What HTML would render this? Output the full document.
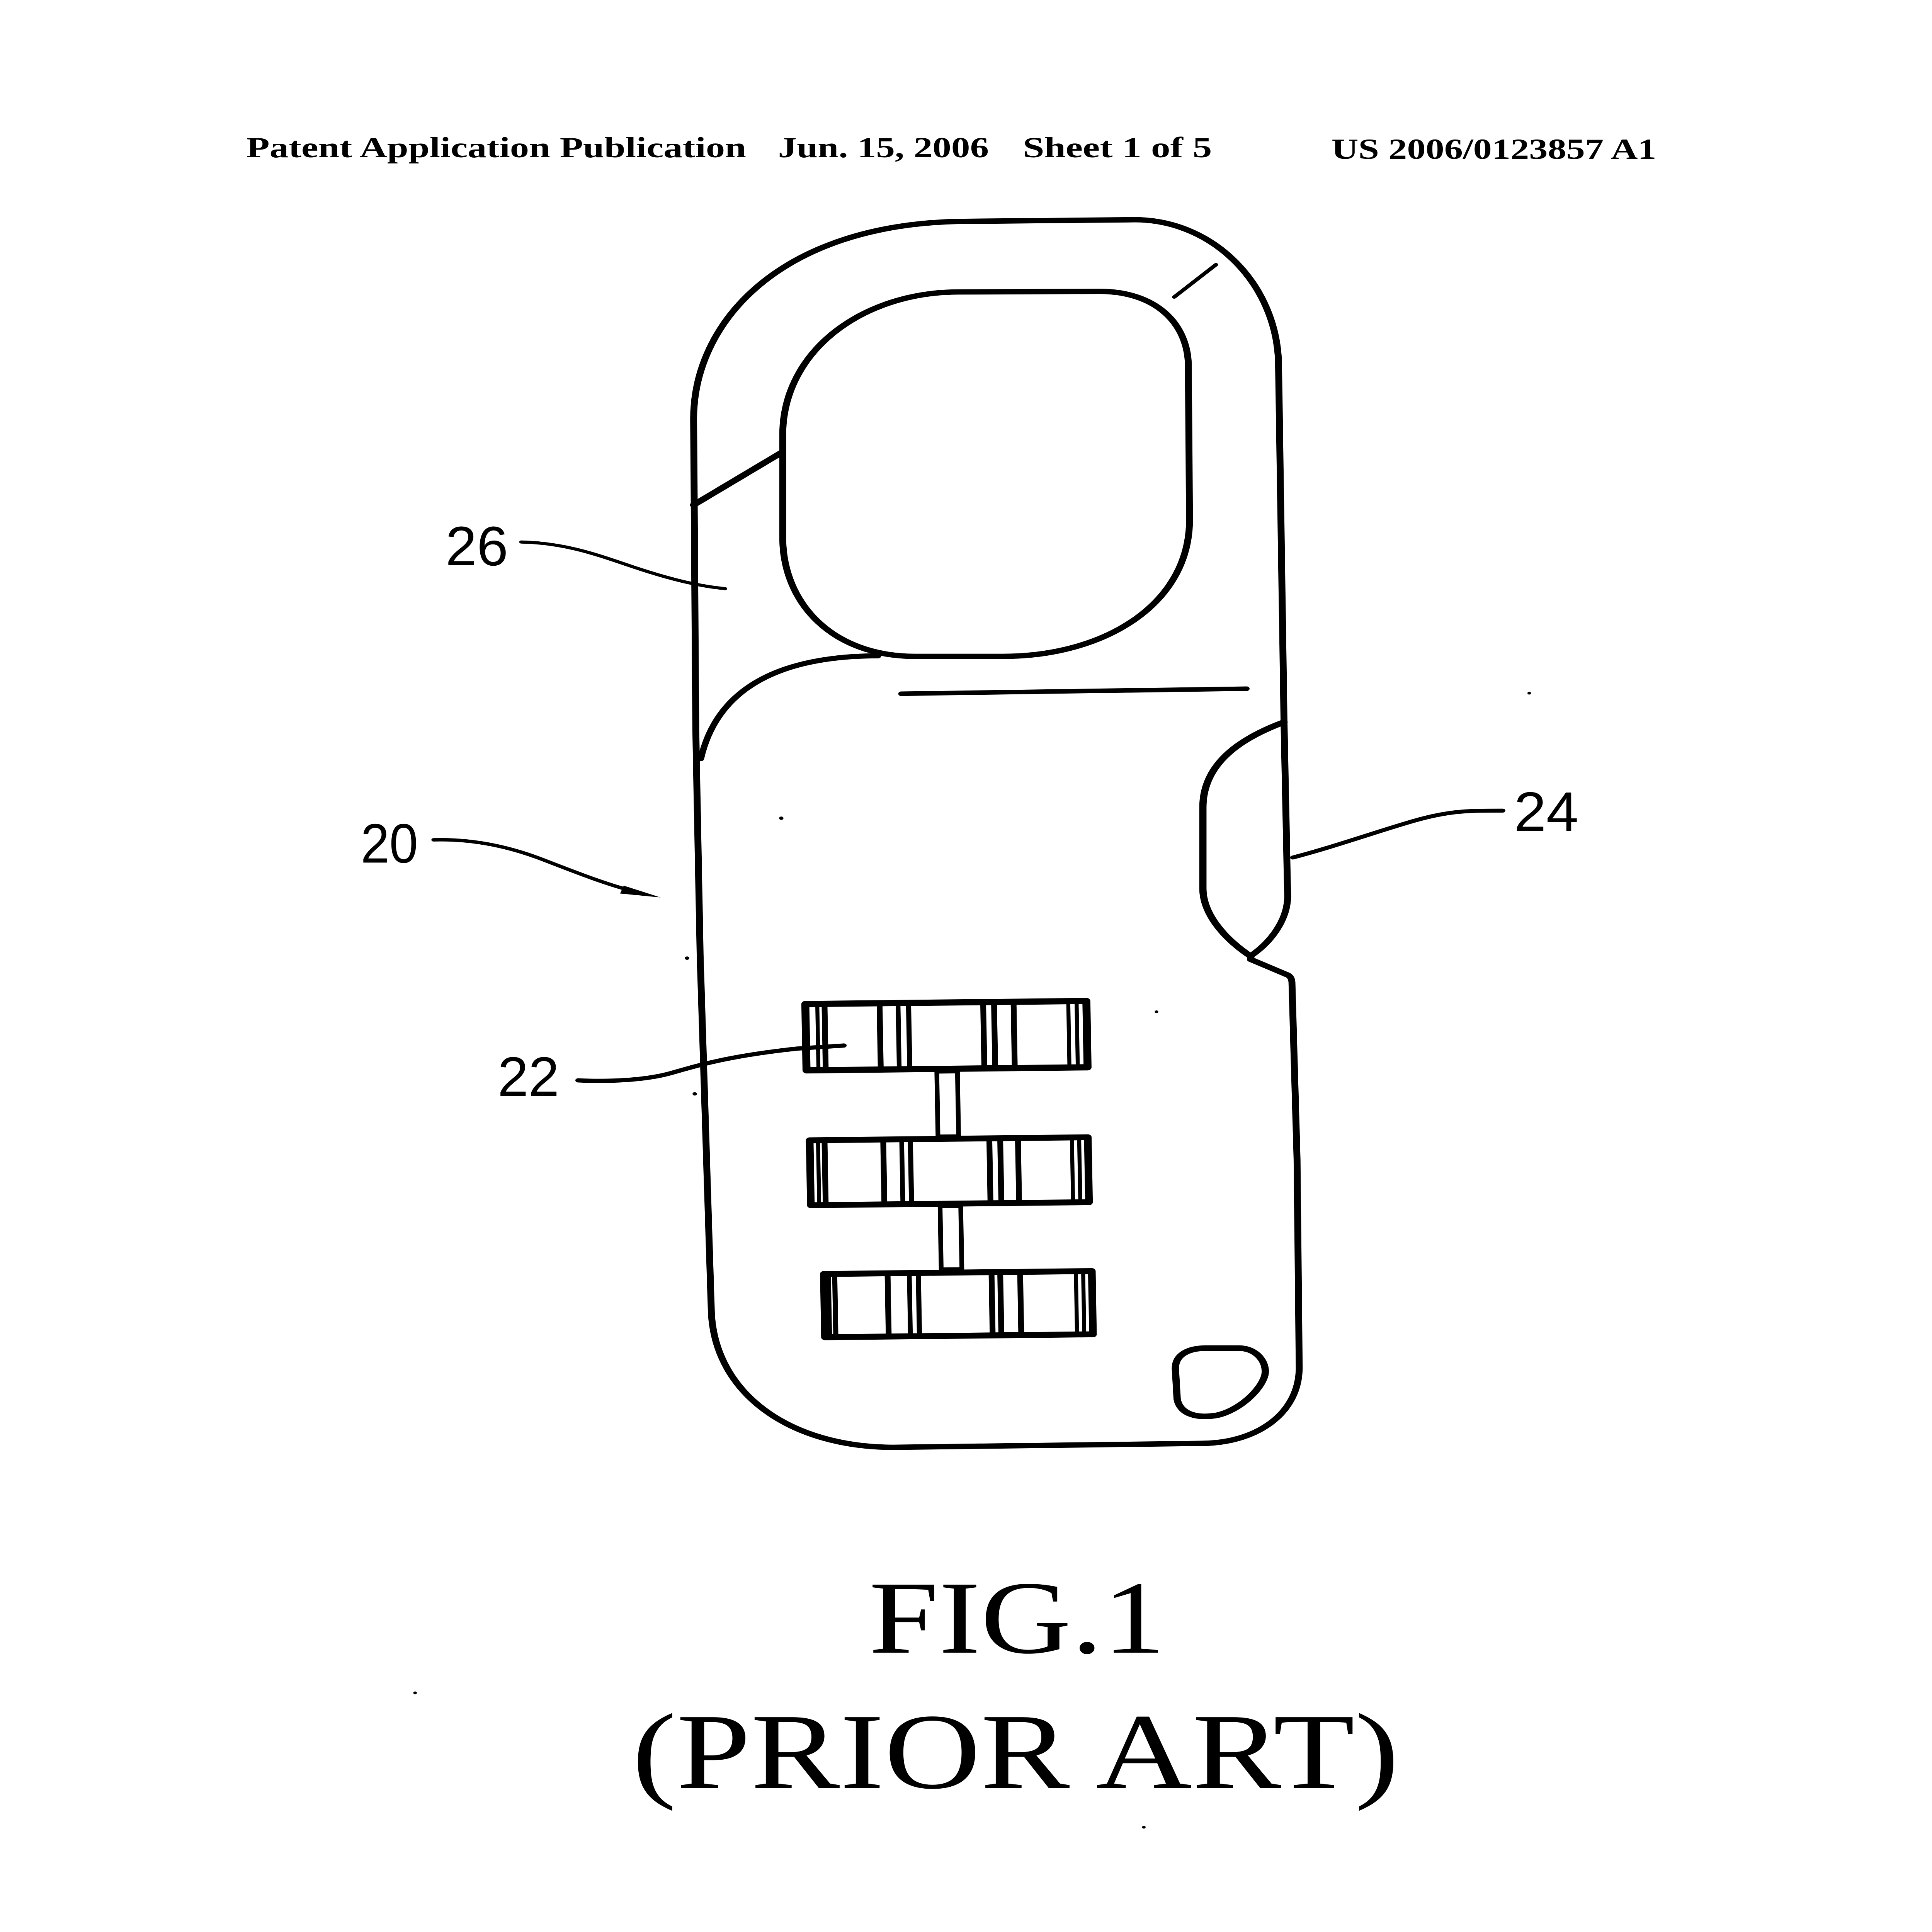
<!DOCTYPE html>
<html>
<head>
<meta charset="utf-8">
<style>
html,body{margin:0;padding:0;background:#fff;width:100%;height:100%;overflow:hidden;}
svg{display:block;position:fixed;left:0;top:0;width:100vw;height:100vh;}
</style>
</head>
<body>
<svg xmlns="http://www.w3.org/2000/svg" viewBox="0 0 5334 6876" preserveAspectRatio="none">
<rect x="0" y="0" width="5334" height="6876" fill="#fff"/>

<!-- Header -->
<g font-family="'Liberation Serif', serif" font-weight="bold" font-size="104" fill="#000">
  <text x="680" y="560" textLength="1380" lengthAdjust="spacingAndGlyphs">Patent Application Publication</text>
  <text x="2148" y="560" textLength="582" lengthAdjust="spacingAndGlyphs">Jun. 15, 2006</text>
  <text x="2824" y="560" textLength="522" lengthAdjust="spacingAndGlyphs">Sheet 1 of 5</text>
  <text x="3676" y="565" textLength="897" lengthAdjust="spacingAndGlyphs">US 2006/0123857 A1</text>
</g>

<g fill="none" stroke="#000" stroke-linecap="round" stroke-linejoin="round">
  <!-- Outer outline -->
  <path stroke-width="19" d="M 1915 1490 C 1915 1150, 2150 800, 2650 788 L 3133 782 C 3352 782, 3530 1017, 3530 1306 L 3545 2568 L 3555 3190 C 3555 3270, 3512 3350, 3454 3401 L 3452 3414 L 3555 3470 Q 3567 3478, 3567 3500 L 3581 4127 L 3587 4870 C 3585 5040, 3460 5137, 3317 5137 L 2466 5151 C 2180 5150, 1975 4960, 1964 4672 L 1933 3400 L 1921 2600 Z"/>
  <!-- Shackle opening -->
  <path stroke-width="19" d="M 2648 1039 L 3036 1037 C 3190 1037, 3281 1150, 3281 1306 L 3284 1851 C 3284 2150, 3050 2336, 2769 2336 L 2527 2336 C 2300 2336, 2161 2150, 2161 1912 L 2161 1548 C 2161 1250, 2380 1039, 2648 1039 Z"/>
  <!-- Left diagonal -->
  <line x1="1915" y1="1797" x2="2160" y2="1609" stroke-width="20"/>
  <!-- Top right small diagonal -->
  <line x1="3242" y1="1057" x2="3357" y2="942" stroke-width="12"/>
  <!-- Body top curve -->
  <path stroke-width="18" d="M 2424 2334 C 2150 2335, 1980 2450, 1935 2700"/>
  <!-- Horizontal line -->
  <line x1="2488" y1="2469" x2="3442" y2="2451" stroke-width="16"/>
  <!-- Slot -->
  <path stroke-width="20" d="M 3545 2570 C 3420 2630, 3321 2720, 3321 2874 L 3321 3161 C 3321 3260, 3390 3350, 3454 3404"/>
  <!-- Small hole -->
  <path stroke-width="20" d="M 3245 4870 C 3245 4822, 3280 4798, 3330 4798 L 3420 4798 C 3470 4798, 3500 4850, 3492 4895 C 3480 4950, 3420 5020, 3360 5037 C 3300 5050, 3258 5030, 3250 4980 Z"/>

  <!-- Wheel 1 -->
  <g transform="rotate(-0.8 2613 3686)">
    <rect x="2225" y="3568" width="776" height="236" stroke-width="22"/>
    <g stroke-linecap="butt">
      <line x1="2258" y1="3578" x2="2258" y2="3794" stroke-width="11"/>
      <line x1="2278" y1="3578" x2="2278" y2="3794" stroke-width="16"/>
      <line x1="2430" y1="3578" x2="2430" y2="3794" stroke-width="16"/>
      <line x1="2481" y1="3578" x2="2481" y2="3794" stroke-width="13"/>
      <line x1="2510" y1="3578" x2="2510" y2="3794" stroke-width="14"/>
      <line x1="2716" y1="3578" x2="2716" y2="3794" stroke-width="16"/>
      <line x1="2746" y1="3578" x2="2746" y2="3794" stroke-width="16"/>
      <line x1="2800" y1="3578" x2="2800" y2="3794" stroke-width="16"/>
      <line x1="2951" y1="3578" x2="2951" y2="3794" stroke-width="11"/>
      <line x1="2974" y1="3578" x2="2974" y2="3794" stroke-width="11"/>
    </g>
  </g>
  <!-- Connector 1 -->
  <rect x="2588" y="3814" width="57" height="230" stroke-width="13" transform="rotate(-0.8 2616 3929)"/>

  <!-- Wheel 2 -->
  <g transform="rotate(-0.8 2621 4168)">
    <rect x="2237" y="4053" width="768" height="231" stroke-width="21"/>
    <g stroke-linecap="butt">
      <line x1="2260" y1="4063" x2="2260" y2="4274" stroke-width="11"/>
      <line x1="2278" y1="4063" x2="2278" y2="4274" stroke-width="16"/>
      <line x1="2440" y1="4063" x2="2440" y2="4274" stroke-width="16"/>
      <line x1="2491" y1="4063" x2="2491" y2="4274" stroke-width="13"/>
      <line x1="2515" y1="4063" x2="2515" y2="4274" stroke-width="14"/>
      <line x1="2733" y1="4063" x2="2733" y2="4274" stroke-width="16"/>
      <line x1="2763" y1="4063" x2="2763" y2="4274" stroke-width="16"/>
      <line x1="2812" y1="4063" x2="2812" y2="4274" stroke-width="16"/>
      <line x1="2961" y1="4063" x2="2961" y2="4274" stroke-width="11"/>
      <line x1="2981" y1="4063" x2="2981" y2="4274" stroke-width="11"/>
    </g>
  </g>
  <!-- Connector 2 -->
  <rect x="2597" y="4293" width="57" height="224" stroke-width="13" transform="rotate(-0.8 2626 4405)"/>

  <!-- Wheel 3 -->
  <g transform="rotate(-0.8 2646 4641)">
    <rect x="2276" y="4529" width="740" height="225" stroke-width="21"/>
    <g stroke-linecap="butt">
      <line x1="2290" y1="4539" x2="2290" y2="4744" stroke-width="11"/>
      <line x1="2306" y1="4539" x2="2306" y2="4744" stroke-width="14"/>
      <line x1="2452" y1="4539" x2="2452" y2="4744" stroke-width="16"/>
      <line x1="2512" y1="4539" x2="2512" y2="4744" stroke-width="13"/>
      <line x1="2537" y1="4539" x2="2537" y2="4744" stroke-width="14"/>
      <line x1="2739" y1="4539" x2="2739" y2="4744" stroke-width="16"/>
      <line x1="2763" y1="4539" x2="2763" y2="4744" stroke-width="16"/>
      <line x1="2818" y1="4539" x2="2818" y2="4744" stroke-width="16"/>
      <line x1="2972" y1="4539" x2="2972" y2="4744" stroke-width="11"/>
      <line x1="2992" y1="4539" x2="2992" y2="4744" stroke-width="11"/>
    </g>
  </g>

  <!-- Leader lines -->
  <path stroke-width="11" d="M 1439 1929 C 1560 1932, 1650 1975, 1742 2015 S 1920 2085, 2002 2095"/>
  <path stroke-width="12" d="M 1197 2989 C 1300 2985, 1400 3010, 1500 3060 S 1690 3155, 1760 3175"/>
  <path stroke-width="14" d="M 3569 3052 C 3680 3015, 3800 2960, 3902 2922 S 4060 2885, 4149 2885"/>
  <path stroke-width="15" d="M 1596 3845 C 1680 3850, 1780 3845, 1850 3820 S 2000 3760, 2200 3732 L 2330 3721"/>
</g>

<!-- Arrowhead for 20 -->
<polygon points="1824,3194 1712,3180 1722,3152" fill="#000"/>

<!-- Stray dots -->
<g fill="#000">
  <circle cx="2157" cy="2912" r="6"/>
  <circle cx="1897" cy="3410" r="6"/>
  <circle cx="3193" cy="3601" r="5"/>
  <circle cx="1918" cy="3893" r="6"/>
  <circle cx="4222" cy="2467" r="5"/>
  <circle cx="1146" cy="6025" r="5"/>
  <circle cx="3158" cy="6503" r="5"/>
  <circle cx="2809" cy="6356" r="4"/>
</g>

<!-- Reference numerals -->
<g font-family="'Liberation Sans', sans-serif" font-size="198" fill="#000">
  <text x="1230" y="2012" textLength="173" lengthAdjust="spacingAndGlyphs">26</text>
  <text x="996" y="3070" textLength="158" lengthAdjust="spacingAndGlyphs">20</text>
  <text x="1374" y="3900" textLength="170" lengthAdjust="spacingAndGlyphs">22</text>
  <text x="4180" y="2957" textLength="178" lengthAdjust="spacingAndGlyphs">24</text>
</g>

<!-- Figure caption -->
<g font-family="'Liberation Serif', serif" fill="#000">
  <text x="2399" y="5882" font-size="370" textLength="819" lengthAdjust="spacingAndGlyphs">FIG.1</text>
  <text x="1745" y="6363" font-size="384" textLength="2118" lengthAdjust="spacingAndGlyphs">(PRIOR ART)</text>
</g>
</svg>
</body>
</html>
